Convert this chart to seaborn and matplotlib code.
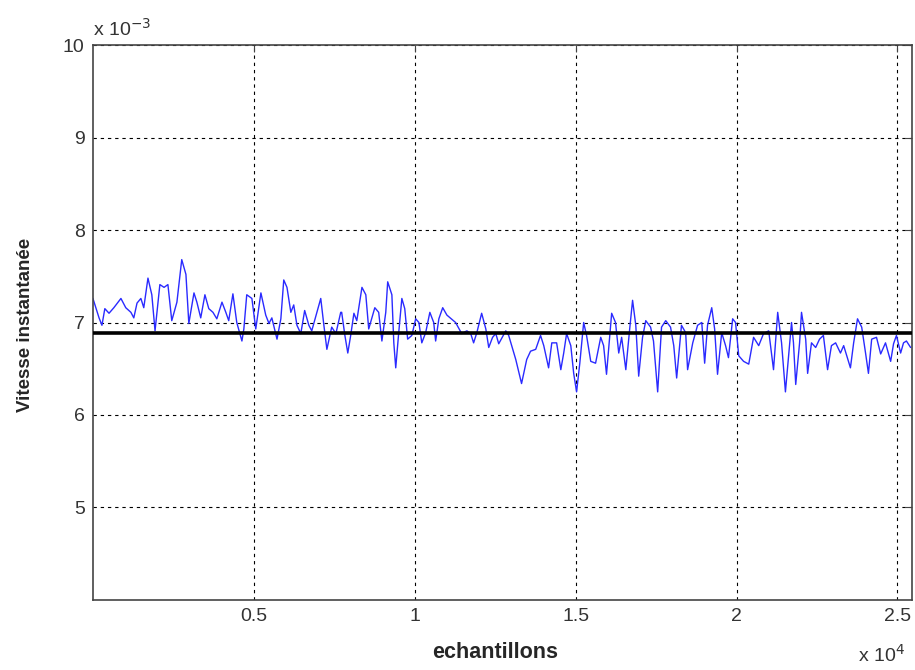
import numpy as np
import pandas as pd
import matplotlib
matplotlib.use("Agg")
import matplotlib.pyplot as plt
import seaborn as sns

# samples (index)
samples = [0, 190, 280, 370, 500, 650, 870, 1020, 1180, 1270, 1370, 1490, 1580, 1710, 1830,
           1930, 2080, 2210, 2330, 2450, 2610, 2760, 2890, 2980, 3140, 3230, 3350, 3480, 3600,
           3730, 3850, 4010, 4130, 4220, 4350, 4470, 4630, 4690, 4780, 4940, 5060, 5220, 5370,
           5470, 5560, 5720, 5840, 5930, 6030, 6150, 6240, 6340, 6460, 6580, 6710, 6800, 7080,
           7170, 7270, 7420, 7550, 7700, 7730, 7830, 7920, 8010, 8110, 8200, 8360, 8480, 8570,
           8760, 8880, 8980, 9100, 9160, 9290, 9350, 9410, 9500, 9600, 9690, 9780, 9910, 10030,
           10130, 10220, 10340, 10470, 10590, 10650, 10750, 10870, 11000, 11270, 11460, 11620,
           11740, 11830, 11930, 12080, 12210, 12300, 12420, 12520, 12610, 12830, 12920, 13140,
           13320, 13480, 13600, 13760, 13910, 14010, 14160, 14260, 14410, 14540, 14630, 14720,
           14850, 14940, 15030, 15130, 15250, 15340, 15470, 15620, 15780, 15870, 15960, 16120,
           16240, 16340, 16430, 16560, 16680, 16770, 16870, 16960, 17080, 17180, 17330, 17420,
           17550, 17670, 17800, 17950, 18050, 18140, 18290, 18420, 18480, 18640, 18790, 18920,
           19010, 19100, 19230, 19320, 19410, 19540, 19660, 19750, 19880, 19970, 20070, 20220,
           20380, 20530, 20690, 20840, 21000, 21150, 21280, 21400, 21520, 21620, 21710, 21770,
           21840, 21960, 22020, 22150, 22210, 22330, 22460, 22580, 22700, 22830, 22950, 23080,
           23230, 23330, 23540, 23640, 23760, 23890, 24010, 24100, 24200, 24350, 24480, 24630,
           24790, 24880, 24970, 25100, 25190, 25280, 25410]

# instantaneous speed, in units of 1e-3
vitesse = [7.26, 7.05, 6.97, 7.15, 7.10, 7.16, 7.26, 7.16, 7.11, 7.05, 7.21, 7.26, 7.16, 7.48, 7.30,
           6.91, 7.41, 7.38, 7.41, 7.02, 7.22, 7.68, 7.52, 6.99, 7.32, 7.22, 7.05, 7.30, 7.15,
           7.11, 7.04, 7.22, 7.11, 7.02, 7.31, 7.00, 6.80, 6.93, 7.30, 7.26, 6.93, 7.32, 7.08,
           6.99, 7.05, 6.82, 7.04, 7.46, 7.38, 7.11, 7.19, 6.97, 6.88, 7.13, 6.97, 6.91, 7.26,
           6.99, 6.71, 6.95, 6.88, 7.11, 7.11, 6.86, 6.67, 6.86, 7.10, 7.02, 7.38, 7.30, 6.93,
           7.16, 7.11, 6.80, 7.11, 7.44, 7.30, 6.78, 6.51, 6.88, 7.26, 7.15, 6.82, 6.86, 7.04,
           7.00, 6.78, 6.89, 7.11, 7.00, 6.80, 7.04, 7.16, 7.08, 7.00, 6.88, 6.91,
           6.88, 6.78, 6.89, 7.10, 6.93, 6.73, 6.84, 6.88, 6.77, 6.91, 6.86, 6.60,
           6.34, 6.60, 6.69, 6.71, 6.86, 6.75, 6.51, 6.78, 6.78, 6.49, 6.67, 6.88,
           6.75, 6.45, 6.25, 6.56, 7.00, 6.86, 6.58, 6.56, 6.84, 6.75, 6.44, 7.10,
           7.00, 6.67, 6.84, 6.49, 6.93, 7.24, 6.97, 6.42, 6.84, 7.02, 6.95, 6.80,
           6.25, 6.95, 7.02, 6.95, 6.75, 6.40, 6.97, 6.89, 6.49, 6.78, 6.97, 7.00,
           6.56, 6.97, 7.16, 6.93, 6.44, 6.89, 6.75, 6.62, 7.04, 7.00, 6.64, 6.58,
           6.55, 6.84, 6.75, 6.88, 6.91, 6.49, 7.11, 6.78, 6.25, 6.64, 7.00, 6.78,
           6.33, 6.78, 7.11, 6.82, 6.45, 6.78, 6.73, 6.82, 6.86, 6.49, 6.75, 6.78,
           6.67, 6.75, 6.51, 6.78, 7.04, 6.95, 6.67, 6.45, 6.82, 6.84, 6.66, 6.78,
           6.58, 6.77, 6.86, 6.67, 6.78, 6.80, 6.73]

mean_level = 6.89  # black reference line, units of 1e-3
x_ticks = [5000, 10000, 15000, 20000, 25000]
x_tick_labels = ['0.5', '1', '1.5', '2', '2.5']
y_ticks = [5, 6, 7, 8, 9, 10]

df = pd.DataFrame({'echantillons': samples, 'vitesse': np.array(vitesse) * 1e-3})

sns.set_style('white')
plt.rcParams['font.family'] = ['Liberation Sans', 'DejaVu Sans']

fig = plt.figure(figsize=(9.15, 6.7), dpi=100)
ax = fig.add_axes([0.1016, 0.1045, 0.895, 0.8283])

sns.lineplot(data=df, x='echantillons', y='vitesse', color='#2a2aff', lw=1.0, ax=ax)
ax.axhline(mean_level * 1e-3, color='black', lw=2.6, zorder=3)

ax.set_xlim(1, 25450)
ax.set_ylim(4e-3, 10e-3)
ax.set_xticks(x_ticks)
ax.set_xticklabels(x_tick_labels)
ax.set_yticks([t * 1e-3 for t in y_ticks])
ax.set_yticklabels([str(t) for t in y_ticks])

# matlab-like dotted grid
ax.grid(True, color='black', linestyle=(0, (3, 3.5)), lw=0.8)
ax.set_axisbelow(True)
for s in ax.spines.values():
    s.set_color('#444444')
    s.set_linewidth(1.2)
    s.set_visible(True)
ax.tick_params(direction='in', length=5, top=True, right=True, labelsize=14,
               labelcolor='#333333', color='#444444', pad=6)

ax.set_xlabel('echantillons', fontsize=15.5, fontweight='bold')
ax.xaxis.set_label_coords(0.491, -0.075)
ax.set_ylabel('Vitesse instantanée', fontsize=13.5, fontweight='bold')
ax.yaxis.set_label_coords(-0.072, 0.495)

ax.text(0.0, 1.01, r'x 10$^{-3}$', transform=ax.transAxes, fontsize=14,
        color='#333333', ha='left', va='bottom')
ax.text(0.992, -0.08, r'x 10$^{4}$', transform=ax.transAxes, fontsize=14,
        color='#333333', ha='right', va='top')

plt.savefig('out.png', dpi=100)
